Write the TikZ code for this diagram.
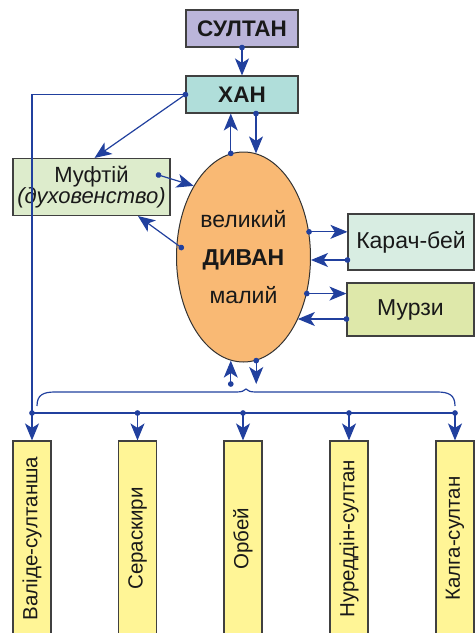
\documentclass[tikz,border=0pt]{standalone}
\usepackage{fontspec}
\setmainfont{Liberation Sans}
\usepackage{graphicx}
\usetikzlibrary{arrows.meta, shapes.geometric}
\definecolor{linkblue}{RGB}{33,64,158}
\definecolor{sultanfill}{RGB}{187,181,218}
\definecolor{khanfill}{RGB}{176,222,218}
\definecolor{muftifill}{RGB}{221,236,204}
\definecolor{divanfill}{RGB}{249,185,116}
\definecolor{karachfill}{RGB}{216,237,226}
\definecolor{murzyfill}{RGB}{222,232,170}
\definecolor{postfill}{RGB}{255,245,150}

\begin{document}
\begin{tikzpicture}[x=1pt,y=-1pt,
                    box/.style={draw=black!75, line width=1.1pt, inner sep=0pt, text=black!90,
                                font=\fontsize{23}{19}\selectfont},
                    head/.style={box, font=\fontsize{22.5}{19}\selectfont\bfseries,
                                 minimum width=112pt, minimum height=37pt},
                    post/.style={box, fill=postfill, minimum width=38pt, minimum height=195pt,
                                 font=\fontsize{20.5}{19}\selectfont},
                    link/.style={draw=linkblue, line width=1.2pt},
                    arr/.style={link, shorten <=-2.8pt,
                                arrows={Circle[length=5.6pt]-Stealth[length=17pt,width=14pt,inset=4.5pt]}}]
                \useasboundingbox (0,0) rectangle (475,633);

                \node[head, fill=sultanfill] (sultan) at (242,28.5) {СУЛТАН};
                \node[head, fill=khanfill] (khan) at (242,94.5) {ХАН};
                \node[box, fill=muftifill, minimum width=157pt, minimum height=57pt, align=center,
                      font=\fontsize{22}{19}\selectfont] (mufti) at (91.5,187) {Муфтій\\\textit{(духовенство)}};
                \node[ellipse, draw=black!80, line width=1pt, fill=divanfill, inner sep=0pt,
                      minimum width=134pt, minimum height=210pt, align=center, text=black!90,
                      font=\fontsize{23}{38}\selectfont] (divan) at (243.5,257) {великий\\\textbf{ДИВАН}\\малий};
                \node[box, fill=karachfill, minimum width=126pt, minimum height=56pt] (karach) at (411,242) {Карач-бей};
                \node[box, fill=murzyfill, minimum width=127pt, minimum height=53pt] (murzy) at (410.5,309.5) {Мурзи};

                \node[post] (b1) at (32,538.5) {\rotatebox{90}{Валіде-султанша}};
                \node[post] (b2) at (137.5,538.5) {\rotatebox{90}{Сераскири}};
                \node[post] (b3) at (243,538.5) {\rotatebox{90}{Орбей}};
                \node[post] (b4) at (349,538.5) {\rotatebox{90}{Нуреддін-султан}};
                \node[post] (b5) at (455,538.5) {\rotatebox{90}{Калга-султан}};

                \coordinate (bus) at (0,413);
                \coordinate (low) at (0,384);

                % lines to the bus
                \draw[link] (khan.west) -| (b1.north |- bus);
                \draw[link] (b1.north |- bus) -- (b5.north |- bus);
                \draw[link] (37,406) .. controls (37,395) and (43,392) .. (55,392) -- (236,392)
                    .. controls (242,392) and (244,391) .. (246,389)
                    .. controls (248,391) and (250,392) .. (256,392) -- (437,392)
                    .. controls (449,392) and (455,395) .. (455,406);

                % arrows
                \draw[arr] (sultan.south) -- (khan.north);
                \draw[arr] (khan.west) -- ([xshift=3pt]mufti.north);
                \draw[arr] ([xshift=14pt]khan.south) -- ([xshift=14pt]khan.south |- divan.83);
                \draw[arr] (divan.97) -- (divan.97 |- khan.south);
                \draw[arr] ([xshift=-12pt,yshift=12pt]mufti.east) -- (divan.125);
                \draw[arr] ([xshift=5pt]divan.172) -- ([xshift=46.5pt]mufti.south);
                \draw[arr] (divan.21) -- (karach.west |- divan.21);
                \draw[arr] ([yshift=-18pt]karach.west) -- ([yshift=-18pt]karach.west -| divan.-2);
                \draw[arr] (divan.-30) -- (murzy.west |- divan.-30);
                \draw[arr] ([yshift=-9.5pt]murzy.west) -- ([yshift=-9.5pt]murzy.west -| divan.-49);
                \draw[arr] (divan.263 |- low) -- (divan.263);
                \draw[arr] (divan.-83) -- (divan.-83 |- low);
                \foreach \b in {b1,b2,b3,b4,b5}
                    \draw[arr] (\b.north |- bus) -- (\b.north);
\end{tikzpicture}
\end{document}
